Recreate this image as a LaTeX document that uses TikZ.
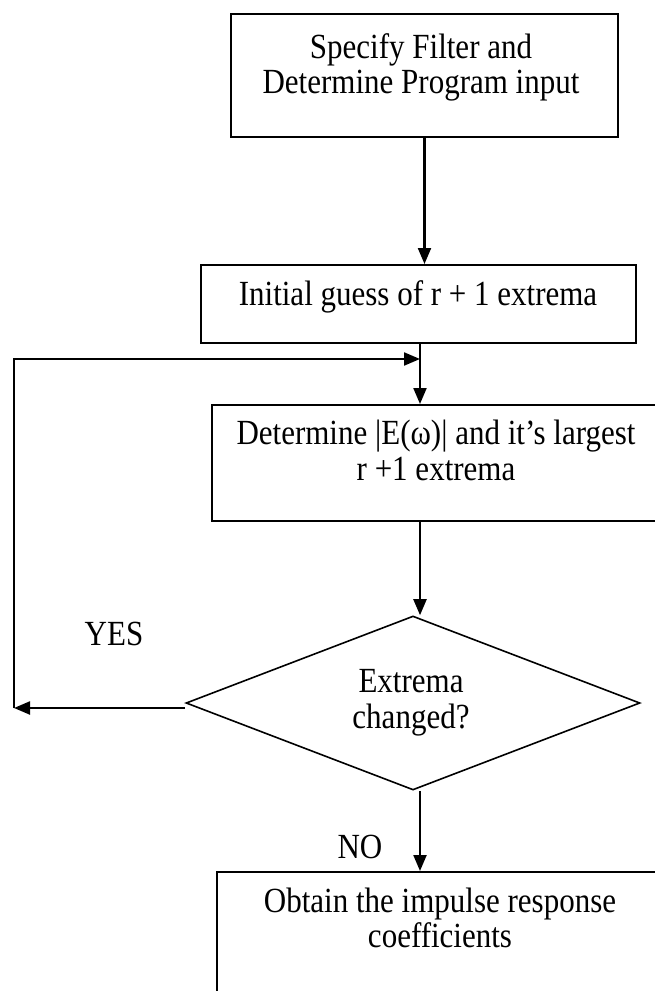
\documentclass[tikz,border=0pt]{standalone}
\usepackage{fontspec}
\setmainfont{Liberation Serif}
\usetikzlibrary{arrows.meta,shapes.geometric}
\begin{document}
\begin{tikzpicture}[x=1pt,y=-1pt,
  box/.style={draw, line width=2pt, inner sep=0pt},
  lbl/.style={anchor=base, inner sep=0pt, yscale=1.14, transform shape,
    font=\fontsize{31}{36}\selectfont},
  decision/.style={draw, shape=diamond, line width=1.6pt, inner sep=0pt,
    minimum width=454pt, minimum height=174pt, aspect=2.609},
  arr/.style={line width=2.2pt, -{Triangle[length=16pt,width=13pt]}}]
\useasboundingbox (0,0) rectangle (655,991);

% process boxes
\node[box, minimum width=387pt, minimum height=123pt] (b1) at (424.5,75.5) {};
\node[box, minimum width=435pt, minimum height=78pt]  (b2) at (418.5,304) {};
\node[box, minimum width=448pt, minimum height=116pt] (b3) at (436,463) {};
\node[decision] (dia) at (413,703) {};
\node[box, minimum width=446pt, minimum height=138pt] (b4) at (440,941) {};

% box texts
\node[lbl] (t1a) at (421,58) {Specify Filter and};
\node[lbl] (t1b) at (421,93) {Determine Program input};
\node[lbl] (t2)  at (418,305) {Initial guess of r + 1 extrema};
\node[lbl] (t3a) at (436,444) {Determine |E(ω)| and it’s largest};
\node[lbl] (t3b) at (436,480) {r +1 extrema};
\node[lbl] (t4a) at (411,692) {Extrema};
\node[lbl] (t4b) at (411,728) {changed?};
\node[lbl] (t5a) at (440,912) {Obtain the impulse response};
\node[lbl] (t5b) at (440,947) {coefficients};

% branch labels
\node[lbl] (yes) at (114,645) {YES};
\node[lbl] (no)  at (360,858) {NO};

% loop-back path
\coordinate (merge) at (420,359);
\coordinate (corner) at (14,708);

\draw[arr] (b1.south) -- (b1.south |- b2.north);
\draw[arr] (b2.south -| merge) -- (b3.north -| merge);
\draw[arr] (b3.south -| merge) -- (dia.north -| merge);
\draw[arr] (dia.south -| merge) -- (b4.north -| merge);
\draw[arr] ([yshift=-5pt]dia.west) -- (corner);
\draw[arr] (corner) |- (merge);
\end{tikzpicture}
\end{document}
